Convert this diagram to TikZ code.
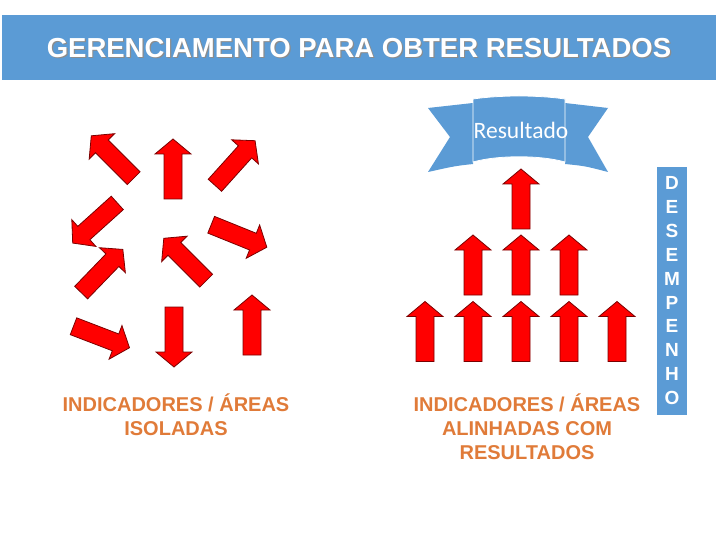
\documentclass[tikz,border=0pt]{standalone}
\usepackage{fontspec}
\setmainfont{Liberation Sans}
\newfontfamily\calibri{Carlito}
\definecolor{azul}{HTML}{5B9BD5}
\definecolor{laranja}{HTML}{E07B39}
\definecolor{vermelho}{HTML}{FF0000}
\definecolor{contorno}{HTML}{7A0000}

\tikzset{
    seta/.pic = {
        \draw[fill=vermelho, draw=contorno, line width=0.8pt, line join=miter]
            (-30,-9) -- (15,-9) -- (15,-18) -- (30,0) -- (15,18) -- (15,9) -- (-30,9) -- cycle;
    }
}

\begin{document}
\begin{tikzpicture}[
        x=1pt, y=1pt,
        titulo/.style = {text=white, font=\fontsize{27.5}{30}\selectfont\bfseries},
        rotulo/.style = {text=laranja, align=center, font=\fontsize{20}{24}\selectfont\bfseries},
        letra/.style = {text=white, font=\fontsize{19}{20}\selectfont\bfseries},
        faixa/.style = {fill=azul, draw=none}
    ]
    \useasboundingbox (0,0) rectangle (720,-540);

    % Barra do titulo
    \fill[azul] (2,-15) rectangle (716,-80);
    \node[titulo, text=black!45] (sombra) at (360.2,-49.2) {GERENCIAMENTO PARA OBTER RESULTADOS};
    \node[titulo] (titulo) at (359,-48) {GERENCIAMENTO PARA OBTER RESULTADOS};

    % Painel A: setas isoladas
    \pic[rotate=135] at (112.5,-157) {seta};
    \pic[rotate=90]  at (173,-169)   {seta};
    \pic[rotate=48]  at (235,-163)   {seta};
    \pic[rotate=222] at (95,-223)    {seta};
    \pic[rotate=46]  at (102,-271)   {seta};
    \pic[rotate=135] at (185,-259.5) {seta};
    \pic[rotate=-22] at (239,-236)   {seta};
    \pic[rotate=-21] at (101.5,-337) {seta};
    \pic[rotate=-90] at (174,-337)   {seta};
    \pic[rotate=90]  at (252,-325)   {seta};

    \node[rotulo] (rotA) at (176,-415) {INDICADORES / ÁREAS\\ISOLADAS};

    % Painel B: faixa Resultado e setas alinhadas
    \fill[faixa] (428,-108) -- (473,-103) -- (473,-164) .. controls (455,-166) .. (428,-172) -- (450,-137) -- cycle;
    \fill[faixa] (608,-108) -- (565,-103) -- (565,-164) .. controls (585,-166) .. (608,-172) -- (588,-137) -- cycle;
    \draw[faixa, draw=white, line width=0.8pt]
        (473,-99) .. controls (500,-95) and (538,-95) .. (565,-99)
        -- (565,-162) .. controls (540,-155) and (498,-155) .. (473,-162) -- cycle;
    \node[text=white, font=\calibri\fontsize{23.5}{26}\selectfont] (resultado) at (521,-130) {Resultado};

    \pic[rotate=90] at (521,-199) {seta};
    \foreach \x in {473,521,569}
        \pic[rotate=90] at (\x,-265) {seta};
    \foreach \x in {425,473,521,569,617}
        \pic[rotate=90] at (\x,-331.5) {seta};

    \node[rotulo] (rotB) at (527,-427) {INDICADORES / ÁREAS\\ALINHADAS COM\\RESULTADOS};

    % Faixa vertical DESEMPENHO
    \fill[azul] (657,-167) rectangle (687,-415);
    \foreach \l [count=\i from 0] in {D,E,S,E,M,P,E,N,H,O}
        \node[letra] (l\i) at (672,-183-23.9*\i) {\l};

\end{tikzpicture}
\end{document}
